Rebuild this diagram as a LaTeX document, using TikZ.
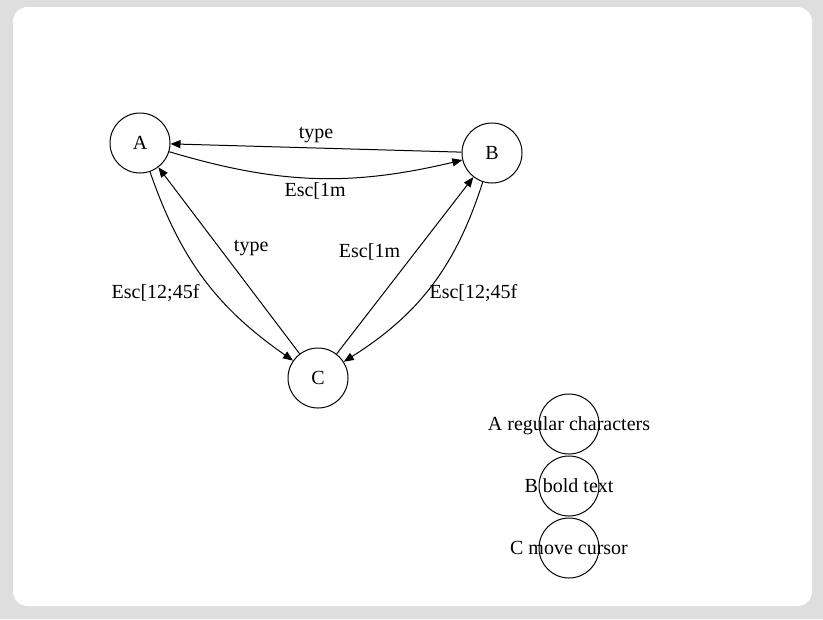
\documentclass[tikz,border=0pt]{standalone}
\usepackage{fontspec}
\setmainfont{Liberation Serif}
\usetikzlibrary{arrows.meta}

\begin{document}
\begin{tikzpicture}[x=0.75pt, y=0.75pt,
    every node/.style={font=\fontsize{15}{18}\selectfont},
    zustand/.style={draw, circle, minimum size=45pt, inner sep=0pt, line width=0.75pt},
    pfeil/.style={-{Triangle[length=7.5pt,width=6pt]}, line width=0.75pt}]
        % Hintergrund
        \fill[black!13] (0,0) rectangle (823,-619);
        \fill[white, rounded corners=11pt] (13,-7) rectangle (812,-606);
        \useasboundingbox (0,0) rectangle (823,-619);
        % Zustaende
        \node[zustand] (A) at (140,-143) {A};
        \node[zustand] (B) at (492,-153) {B};
        \node[zustand] (C) at (318,-378) {C};
        % Uebergaenge
        \draw[pfeil] (A) to[bend right=15] node[below] {Esc[1m} (B);
        \draw[pfeil] (B) -- node[above] {type} (A);
        \draw[pfeil] (A) to[bend right=18] node[below left] {Esc[12;45f} (C);
        \draw[pfeil] (C) -- node[above right] {type} (A);
        \draw[pfeil] (C) -- node[above left] {Esc[1m} (B);
        \draw[pfeil] (B) to[bend left=20] node[below right, xshift=-5, yshift=5] {Esc[12;45f} (C);
        % Legende
        \foreach \z/\txt/\y in {A/regular characters/-424, B/bold text/-486, C/move cursor/-548} {
            \node[zustand] (leg\z) at (569,\y) {};
            \node[anchor=base, yshift=-4.8pt] (erkl\z) at (leg\z) {\z\ \txt};
        }
    \end{tikzpicture}
\end{document}
